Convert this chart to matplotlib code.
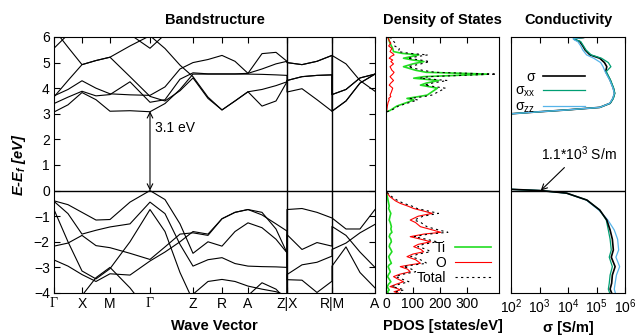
import matplotlib
matplotlib.use('Agg')
import matplotlib.pyplot as plt

plt.rcParams['font.family'] = ['Liberation Sans', 'DejaVu Sans']
plt.rcParams['mathtext.default'] = 'regular'
plt.rcParams['font.size'] = 10

# ---- bandstructure: k path (Gamma-X-M-Gamma-Z-R-A-Z | X-R | M-A)
k_nodes = [0, 14, 28, 42, 56, 76, 96, 111, 126, 139, 154, 168, 181, 194, 208, 222, 233,
           233, 248, 263, 278,
           278, 292, 306, 321]
k_ticks = [0, 28, 56, 96, 139, 168, 194, 233, 278, 321]
k_labels = ['Γ', 'X', 'M', 'Γ', 'Z', 'R', 'A', 'Z|X', 'R|M', 'A']

# conduction bands (eV)
c1 = [3.07, 3.35, 3.83, 3.55, 3.10, 3.12, 3.08, 3.40, 3.95, 4.55, 4.55, 4.55, 4.55, 4.55, 4.54, 4.52, 4.50,
      3.85, 3.98, 3.55, 3.10, 3.10, 3.50, 4.20, 4.55]
c2 = [3.40, 3.65, 3.88, 3.70, 3.75, 4.25, 3.45, 3.55, 4.35, 4.60, 4.56, 4.56, 4.56, 4.58, 4.75, 4.95, 5.05,
      5.00, 4.92, 5.05, 5.28, 5.28, 4.95, 4.30, 3.88]
c3 = [3.70, 3.95, 4.29, 4.00, 3.78, 3.74, 3.72, 4.05, 4.75, 5.00, 5.12, 5.28, 5.05, 4.58, 5.35, 5.40, 5.05,
      5.00, 4.92, 5.05, 5.28, 3.75, 3.95, 4.40, 4.55]
c4 = [3.66, 4.30, 4.92, 5.08, 5.21, 4.45, 3.68, 3.50, 3.90, 4.40, 3.60, 3.15, 3.50, 3.86, 3.30, 3.50, 4.25,
      4.30, 4.45, 4.50, 4.52, 3.75, 3.95, 4.40, 4.55]
c5 = [6.30, 5.60, 4.92, 5.08, 5.21, 5.65, 6.05, 5.55, 4.90, 4.45, 3.65, 3.15, 3.50, 3.86, 3.95, 4.10, 4.25,
      4.30, 4.45, 4.50, 4.52, 3.10, 3.50, 4.20, 4.55]
c6 = [5.56, 6.10, 6.60, 6.80, 6.60, 6.10, 5.56, 6.10, 6.60, 6.90, 7.00, 7.00, 7.00, 7.00, 7.00, 7.00, 7.00,
      7.00, 7.00, 7.00, 7.00, 7.00, 7.00, 7.00, 7.00]

# valence bands (eV)
v1 = [-0.40, -0.55, -0.85, -1.15, -1.13, -0.45, 0.00, -0.35, -1.30, -2.45, -2.00, -2.17, -1.60, -1.26, -1.45, -1.90, -2.43,
      -0.74, -0.70, -0.85, -1.07, -1.07, -1.50, -1.50, -0.74]
v2 = [-0.42, -0.90, -1.70, -1.55, -1.42, -1.30, -0.45, -0.90, -2.10, -2.95, -2.70, -2.62, -2.85, -2.95, -2.97, -2.98, -3.00,
      -1.72, -2.30, -2.03, -2.17, -1.40, -1.75, -2.40, -3.00]
v3 = [-0.74, -2.00, -3.14, -3.45, -3.05, -2.00, -0.74, -1.60, -3.20, -4.30, -4.40, -4.40, -4.40, -4.40, -4.40, -4.40, -4.40,
      -3.28, -2.90, -2.80, -2.56, -2.30, -2.05, -1.65, -1.32]
v4 = [-2.17, -2.05, -1.75, -2.15, -2.23, -2.45, -2.69, -2.20, -1.70, -1.65, -1.75, -1.10, -0.85, -0.74, -0.95, -1.30, -1.58,
      -3.48, -3.50, -3.98, -3.54, -2.95, -2.20, -3.20, -3.80]
v5 = [-2.71, -2.95, -3.28, -3.55, -3.25, -3.30, -2.75, -2.40, -2.00, -1.60, -1.70, -1.10, -0.85, -0.74, -0.85, -1.50, -2.43,
      -4.50, -4.50, -4.50, -4.50, -4.50, -4.50, -4.50, -4.50]
v6 = [-5.00, -4.60, -4.10, -3.40, -3.00, -3.80, -4.80, -4.80, -4.50, -4.05, -3.55, -3.47, -3.55, -3.73, -3.85, -3.95, -4.10,
      -4.50, -4.50, -4.50, -4.50, -4.50, -4.50, -4.50, -4.50]
v7 = [-5.00, -5.00, -5.00, -5.00, -5.00, -5.00, -5.00, -5.00, -5.00, -5.00, -5.00, -5.00, -5.00, -4.10, -3.60, -3.85, -4.30,
      -4.50, -4.50, -4.50, -4.50, -4.50, -4.50, -4.50, -4.50]
bands = [c1, c2, c3, c4, c5, c6, v1, v2, v3, v4, v5, v6, v7]

# ---- density of states (states/eV)
E_dos = [6.00, 5.96, 5.85, 5.76, 5.65, 5.55, 5.43, 5.36, 5.30, 5.25, 5.17, 5.10, 5.04, 4.95, 4.84, 4.70, 4.62,
         4.55, 4.45, 4.39, 4.30, 4.20, 4.12, 4.00, 3.85, 3.73, 3.67, 3.60, 3.54, 3.45, 3.30, 3.13, 3.08, 3.05,
         0.05, -0.08, -0.24, -0.40, -0.50, -0.60, -0.70, -0.80, -0.89, -1.00, -1.15, -1.25, -1.41, -1.50,
         -1.63, -1.70, -1.80, -1.90, -2.00, -2.10, -2.19, -2.30, -2.39, -2.48, -2.58, -2.70, -2.84, -2.90,
         -2.97, -3.07, -3.17, -3.27, -3.36, -3.46, -3.56, -3.65, -3.75, -3.82, -3.88, -3.95, -4.00]
dos_ti = [8, 9, 12, 15, 20, 25, 28, 60, 122, 100, 65, 100, 141, 100, 65, 110, 150,
          380, 140, 103, 196, 150, 128, 191, 170, 153, 120, 78, 103, 80, 40, 15, 2, 0,
          0, 2, 5, 8, 10, 12, 10, 14, 18, 15, 12, 16, 20, 18, 22, 15, 12, 18, 20, 14, 12,
          18, 22, 16, 10, 14, 20, 12, 8, 12, 16, 10, 6, 12, 18, 10, 5, 8, 12, 6, 8]
dos_o = [5, 8, 12, 18, 10, 22, 15, 25, 30, 20, 12, 25, 18, 28, 15, 22, 30,
         25, 15, 20, 28, 18, 12, 25, 20, 15, 18, 10, 12, 8, 5, 3, 1, 0,
         0, 3, 15, 35, 53, 80, 103, 140, 172, 120, 90, 110, 128, 160, 204, 140, 90, 130, 166, 120, 103,
         130, 140, 100, 78, 110, 128, 90, 53, 80, 90, 50, 28, 45, 65, 40, 15, 40, 53, 30, 45]
dos_tot = [14, 18, 26, 35, 32, 50, 45, 88, 155, 125, 80, 128, 162, 130, 82, 135, 182,
           410, 158, 126, 228, 172, 143, 220, 193, 170, 140, 90, 118, 90, 46, 19, 3, 0,
           0, 5, 22, 45, 66, 95, 116, 158, 195, 138, 105, 130, 152, 182, 230, 158, 105, 150, 190, 138, 118,
           152, 165, 120, 92, 128, 152, 105, 65, 95, 110, 62, 36, 60, 85, 52, 22, 50, 68, 38, 55]

# ---- conductivity (S/m)
E_cond = [5.98, 5.95, 5.93, 5.88, 5.82, 5.65, 5.49, 5.30, 5.17, 5.00, 4.84, 4.65, 4.32, 4.00, 3.80, 3.60,
          3.41, 3.25, 3.15, 3.08, 3.00, 2.95,
          0.20, 0.05, 0.00, -0.10, -0.37, -0.76, -1.15, -1.54, -1.90, -2.32, -2.60, -2.97, -3.30, -3.62, -3.85, -4.00]
sig = [3.5e4, 2.0e4, 1.6e4, 1.9e4, 2.6e4, 3.3e4, 4.0e4, 5.9e4, 1.3e5, 1.9e5, 2.3e5, 2.1e5, 3.0e5, 3.9e5, 4.3e5, 3.8e5,
       3.0e5, 1.3e5, 9.0e3, 1.0e3, 1.0e2, 3.0e1,
       3.0e1, 1.0e2, 1.1e3, 8.9e3, 4.6e4, 1.3e5, 2.3e5, 3.0e5, 3.6e5, 3.9e5, 3.3e5, 4.5e5, 3.6e5, 3.4e5, 3.0e5, 3.4e5]
sig_xx = [3.5e4, 2.2e4, 1.7e4, 2.0e4, 2.8e4, 3.5e4, 4.3e4, 6.5e4, 1.5e5, 2.6e5, 3.2e5, 2.2e5, 3.1e5, 4.0e5, 4.4e5, 3.9e5,
          3.0e5, 1.3e5, 9.0e3, 1.0e3, 1.0e2, 3.0e1,
          3.0e1, 1.0e2, 1.1e3, 8.9e3, 4.6e4, 1.3e5, 2.2e5, 2.6e5, 3.0e5, 3.3e5, 2.8e5, 3.6e5, 3.0e5, 2.8e5, 2.6e5, 2.9e5]
sig_zz = [3.3e4, 1.8e4, 1.5e4, 1.7e4, 2.2e4, 2.8e4, 3.3e4, 4.5e4, 8.0e4, 1.4e5, 1.7e5, 2.0e5, 2.9e5, 3.8e5, 4.2e5, 3.7e5,
          2.9e5, 1.3e5, 9.0e3, 1.0e3, 1.0e2, 3.0e1,
          3.0e1, 1.0e2, 1.1e3, 8.9e3, 4.4e4, 1.2e5, 2.5e5, 4.2e5, 5.5e5, 6.0e5, 4.8e5, 6.5e5, 5.0e5, 4.5e5, 4.2e5, 4.6e5]
n_cb = 22  # first points belong to the conduction band part

fig = plt.figure(figsize=(6.36, 3.35), dpi=100)
ax1 = fig.add_axes([0.0849, 0.1254, 0.5047, 0.7642])
ax2 = fig.add_axes([0.6069, 0.1254, 0.1777, 0.7642])
ax3 = fig.add_axes([0.8035, 0.1254, 0.1792, 0.7642])

# bandstructure
for b in bands:
    ax1.plot(k_nodes, b, color='k', lw=0.8)
for kx in k_ticks[7:9]:
    ax1.axvline(kx, color='k', lw=1.0)
ax1.axhline(0, color='k', lw=1.0)
ax1.annotate('', xy=(96, 3.1), xytext=(96, 0.0),
             arrowprops=dict(arrowstyle='<->', color='k', lw=0.8, shrinkA=0, shrinkB=0))
ax1.text(101, 2.3, '3.1 eV', fontsize=10)
ax1.set_xlim(0, 321)
ax1.set_ylim(-4, 6)
ax1.set_xticks(k_ticks)
ax1.set_xticklabels(k_labels)
for t in ax1.get_xticklabels():
    if t.get_text() == 'Γ':
        t.set_family('Liberation Serif')
ax1.set_yticks(range(-4, 7))
ax1.tick_params(direction='in', top=True, right=True, length=4, pad=3)
ax1.set_xlabel('Wave Vector', fontweight='bold', fontsize=10.5, labelpad=6)
ax1.set_ylabel('E-E$_f$ [eV]', fontweight='bold', style='italic', fontsize=10.5, labelpad=4)
ax1.set_title('Bandstructure', fontweight='bold', fontsize=10.5, pad=9)

# density of states
ax2.plot(dos_ti, E_dos, color='#22dd22', lw=1.2, label='Ti')
ax2.plot(dos_o, E_dos, color='#ff0000', lw=0.8, label='O')
ax2.plot(dos_tot, E_dos, color='k', lw=0.8, ls=(0, (2, 3)), label='Total')
ax2.axhline(0, color='k', lw=1.0)
ax2.set_xlim(0, 420)
ax2.set_ylim(-4, 6)
ax2.set_xticks([0, 100, 200, 300])
ax2.set_yticks([])
ax2.tick_params(direction='in', top=True, length=4, pad=3)
ax2.set_xlabel('PDOS [states/eV]', fontweight='bold', fontsize=10.5, labelpad=6)
ax2.set_title('Density of States', fontweight='bold', fontsize=10.5, pad=9)
ax2.legend(loc='lower right', markerfirst=False, frameon=False, handlelength=2.6,
           labelspacing=0.05, borderaxespad=0.2, handletextpad=0.6, fontsize=10)

# conductivity
ax3.plot(sig[:n_cb], E_cond[:n_cb], color='k', lw=1.2, label='σ')
ax3.plot(sig_xx[:n_cb], E_cond[:n_cb], color='#009e73', lw=0.9, label='σ$_{xx}$')
ax3.plot(sig_zz[:n_cb], E_cond[:n_cb], color='#56b4e9', lw=0.9, label='σ$_{zz}$')
ax3.plot(sig_zz[n_cb:], E_cond[n_cb:], color='#56b4e9', lw=0.9)
ax3.plot(sig_xx[n_cb:], E_cond[n_cb:], color='#009e73', lw=0.9)
ax3.plot(sig[n_cb:], E_cond[n_cb:], color='k', lw=1.2)
ax3.axhline(0, color='k', lw=1.0)
ax3.annotate('1.1*10$^3$ S/m', xy=(1.1e3, 0.0), xytext=(2.4e4, 1.2), ha='center', fontsize=10,
             arrowprops=dict(arrowstyle='->', color='k', lw=0.8, shrinkA=2, shrinkB=0))
ax3.set_xscale('log')
ax3.set_xlim(1e2, 1e6)
ax3.set_ylim(-4, 6)
ax3.set_xticks([1e2, 1e3, 1e4, 1e5, 1e6])
ax3.set_yticks([])
ax3.tick_params(which='both', direction='in', top=True, pad=3)
ax3.tick_params(which='major', length=4)
ax3.tick_params(which='minor', length=2)
ax3.set_xlabel('σ [S/m]', fontweight='bold', fontsize=10.5, labelpad=4)
ax3.set_title('Conductivity', fontweight='bold', fontsize=10.5, pad=9)
ax3.legend(loc='upper right', bbox_to_anchor=(0.76, 0.92), markerfirst=False, frameon=False,
           handlelength=3.0, labelspacing=0.0, handletextpad=0.6, fontsize=10)

fig.savefig('out.png', dpi=100)
